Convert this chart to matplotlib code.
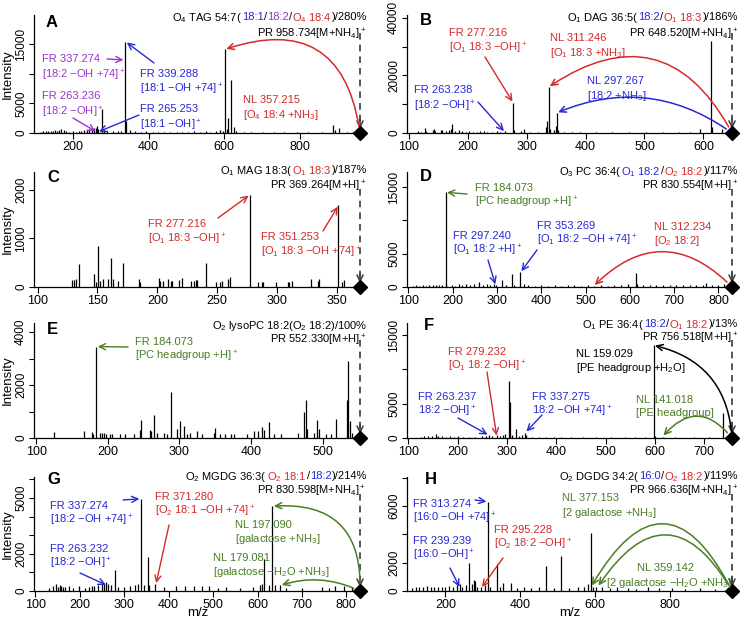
import matplotlib
matplotlib.use("Agg")
import matplotlib.pyplot as plt
from matplotlib.transforms import IdentityTransform

plt.rcParams['font.family'] = ['Liberation Sans', 'DejaVu Sans']
plt.rcParams['mathtext.fontset'] = 'custom'
plt.rcParams['mathtext.rm'] = 'Liberation Sans'
plt.rcParams['mathtext.default'] = 'regular'

# ---------------- data ----------------
A_mz = [115, 122, 128, 135, 141, 147, 152, 158, 163, 169, 175, 181, 190, 199, 207, 215, 222, 229, 236, 243,
        249, 255, 261, 263.2, 265.3, 277, 281, 291, 305, 319, 327, 337.3, 339.3, 351, 365, 379, 393, 411,
        425, 441, 457, 475, 489, 505, 521, 535, 551, 563, 577, 589, 597, 601.5, 606, 611, 618.5, 626, 631,
        651, 671, 703, 731, 759, 791, 821, 857, 887, 893, 903, 923, 941]
A_int = [250, 300, 350, 300, 400, 300, 500, 350, 450, 600, 500, 300, 250, 300, 250, 400, 300, 450, 500, 700,
         600, 800, 900, 1200, 700, 4000, 500, 400, 300, 400, 300, 15400, 2000, 500, 300, 250, 300, 250,
         200, 250, 200, 250, 200, 250, 300, 200, 300, 200, 350, 500, 400, 14100, 600, 2600, 9000, 1000, 300,
         200, 250, 200, 200, 250, 200, 250, 200, 1400, 500, 800, 250, 200]

B_mz = [115, 121, 127, 129, 141, 143, 145, 155, 157, 163, 169, 171, 173, 179, 185, 191, 197, 203, 209, 215,
        221, 227, 233, 241, 249, 255, 263.2, 277.2, 279, 291, 295, 305, 319, 333, 335, 337.3, 339, 347, 349,
        351.3, 353, 363, 377, 391, 417, 445, 473, 503, 531, 559, 577, 595, 613, 615, 631]
B_int = [600, 500, 1700, 800, 1000, 1500, 700, 900, 1200, 600, 900, 1500, 3000, 700, 900, 600, 500, 700, 500, 400,
         800, 600, 500, 400, 600, 400, 600, 10500, 1200, 600, 1300, 500, 500, 2000, 4000, 16000, 1500, 1200, 2500,
         7000, 1000, 500, 400, 400, 300, 400, 300, 400, 300, 300, 400, 1500, 32000, 2000, 1500]

C_mz = [128.9, 130.3, 132.2, 134.7, 147, 148.4, 150.6, 152.3, 154.5, 158.7, 161, 162.6, 166.8, 171.3, 185,
        185.8, 201, 202.4, 204.6, 208.9, 211.7, 212.5, 217.8, 220.6, 228.4, 230.4, 232, 233.2, 240.4, 249.3,
        252.7, 254.3, 259, 260.7, 277.2, 284, 287, 288.3, 298.7, 309.3, 310.1, 312.6, 328.2, 334.3, 335.2,
        351.25, 353.9, 356.1]
C_int = [140, 150, 160, 470, 270, 110, 850, 120, 170, 170, 600, 170, 130, 500, 170,
         100, 190, 130, 120, 160, 120, 120, 150, 180, 130, 130, 150, 150, 500, 110,
         110, 120, 170, 200, 1900, 110, 110, 110, 100, 110, 110, 120, 160, 130, 160,
         1680, 110, 150]

D_mz = [110, 118, 125, 132, 140, 147, 155, 162, 170, 176, 184.07, 186, 198, 205, 214, 221, 230, 240, 249,
        260.6, 268, 277, 285, 294, 297, 311, 320, 334, 338, 352, 360, 370, 385, 400, 415, 430, 445, 460, 475,
        490, 505, 520, 535, 550, 565, 580, 596, 613, 617, 630, 645, 660, 675, 690, 705, 720, 735, 750, 765,
        772, 785, 800, 812]
D_int = [200, 250, 200, 250, 200, 250, 300, 250, 300, 300, 14200, 400, 300, 200, 500, 300, 400, 300, 400,
         700, 300, 400, 300, 500, 300, 1100, 300, 2000, 300, 2200, 400, 300, 200, 250, 200, 250, 200, 250, 300,
         200, 250, 200, 250, 200, 300, 250, 400, 2100, 400, 300, 250, 300, 250, 300, 250, 350, 250, 300, 250,
         600, 300, 250, 500]

E_mz = [125.3, 166.4, 178, 180, 184.07, 189.7, 192.5, 195.3, 198, 203.6, 206.4, 217.6, 224.6, 236.3, 244.7,
        246.5, 258.7, 260.5, 264.3, 269, 278.2, 283, 288.5, 296.9, 301.5, 307.1, 310.9, 314.6, 324.9, 331.8,
        348.2, 349.6, 357.4, 364.4, 371.5, 376.1, 394.8, 404.1, 409.7, 414.8, 418, 425.1, 432, 441.4, 465.7,
        474, 476.3, 478.7, 488, 492.6, 495, 504.3, 511.3, 518.3, 534.7, 536, 538, 541.6]
E_int = [220, 280, 220, 150, 3450, 180, 180, 180, 150, 160, 160, 150, 160, 150, 300,
         680, 300, 250, 880, 200, 200, 150, 1750, 350, 650, 450, 150, 180, 250, 150,
         200, 380, 150, 150, 150, 150, 150, 280, 280, 420, 300, 600, 150, 150, 180,
         1000, 1430, 350, 200, 680, 350, 150, 150, 700, 1430, 2900, 650, 200]

F_mz = [125, 132, 140, 148, 155, 160, 168, 176, 184, 192, 200, 210, 222, 235, 249, 257, 263.2, 270, 279.2,
        285, 291, 296, 303, 305.5, 310, 318, 324, 330, 337.3, 339, 350, 365, 380, 395, 410, 430, 455, 480,
        510, 540, 560, 580, 597.49, 600, 615.5, 640, 680, 710, 738.5, 745]
F_int = [150, 250, 300, 350, 600, 300, 250, 200, 250, 200, 250, 200, 150, 200, 250, 300, 500, 300, 400,
         300, 400, 600, 8300, 5200, 400, 1300, 300, 400, 800, 400, 200, 150, 200, 150, 100, 150, 100, 100,
         100, 100, 150, 200, 13500, 300, 150, 100, 100, 150, 3700, 200]

G_mz = [130, 140, 146, 151, 155, 158, 162, 167, 175, 185, 199, 212, 220, 228, 232, 241, 249, 255, 259, 263.2,
        270, 279, 285, 299, 313, 325, 331, 337.27, 345, 352.4, 355, 369.8, 390, 417, 437, 458, 476, 490, 510,
        530, 560, 590, 605, 610, 615.5, 625, 633.5, 640, 651.5, 665, 700, 745, 760, 775, 795, 812]
G_int = [150, 250, 400, 200, 300, 250, 200, 200, 250, 150, 250, 150, 200, 250, 250, 300, 350, 400, 500, 350,
         300, 1150, 200, 200, 250, 300, 400, 4960, 300, 1820, 300, 400, 200, 250, 250, 250, 250, 250, 150,
         200, 150, 200, 300, 400, 1700, 300, 4560, 300, 300, 150, 150, 200, 150, 250, 250, 200]

H_mz = [110, 120, 130, 140, 150, 160, 170, 180, 190, 200, 210, 220, 230, 239.2, 245, 255, 263.9, 270, 275.6,
        280, 285, 295.2, 305, 313.27, 320, 336.6, 345, 354.6, 374.3, 390, 410, 430, 450, 468.6, 490, 509, 530,
        555, 571.8, 580.8, 589.48, 595, 603.7, 620, 640, 660, 688, 710, 742, 770, 805, 840, 880, 920]
H_int = [200, 250, 300, 250, 350, 300, 250, 300, 250, 300, 350, 300, 400, 500, 300, 400, 1950, 500, 800,
         700, 300, 300, 400, 6300, 300, 1880, 300, 600, 550, 200, 250, 200, 250, 1760, 200, 2470, 200,
         250, 300, 500, 4120, 300, 300, 250, 200, 250, 200, 150, 300, 200, 200, 150, 200, 150]

PR = dict(A=958.734, B=648.520, C=369.264, D=830.554, E=552.330, F=756.518, G=830.598, H=966.636)

# ---------------- style ----------------
K = '#000000'
BLUE = '#2727d6'
RED = '#d42a2a'
PURPLE = '#9b34cc'
GREEN = '#4a7d24'
GRAY = '#3a3a3a'
FS = 8
W, H = 740, 620

fig = plt.figure(figsize=(7.4, 6.2), dpi=100)
renderer = fig.canvas.get_renderer()
IDT = IdentityTransform()


def put(x, y, pieces, ha='left', size=FS, weight='normal'):
    texts = []
    for s, c in pieces:
        t = fig.text(0, 0, s, color=c, fontsize=size, ha='left', va='center_baseline',
                     transform=IDT, fontweight=weight)
        texts.append(t)
    widths = [t.get_window_extent(renderer).width for t in texts]
    x0 = x if ha == 'left' else x - sum(widths)
    for t, w in zip(texts, widths):
        t.set_position((x0, H - y))
        x0 += w


def label(x, y1, y2, l1, l2, color, x2=None):
    put(x, y1, [(l1, color)])
    put(x if x2 is None else x2, y2, [(l2, color)])


AH = '->,head_length=0.45,head_width=0.22'


def arrow(ax, start, target, color):
    ax.annotate('', xy=target, xycoords='data', xytext=(start[0], H - start[1]),
                textcoords='figure pixels', annotation_clip=False,
                arrowprops=dict(arrowstyle=AH, color=color, lw=1.0, shrinkA=0, shrinkB=1))


def nl_arrow(ax, pr, nl, h, color, rad):
    ax.annotate('', xy=(pr - nl, h), xycoords='data', xytext=(pr, 0), textcoords='data',
                annotation_clip=False,
                arrowprops=dict(arrowstyle=AH, color=color, lw=1.1, shrinkA=5, shrinkB=1,
                                connectionstyle='arc3,rad=%g' % rad))


def top(mz, it, m):
    i = min(range(len(mz)), key=lambda k: abs(mz[k] - m))
    return it[i]


COLS = [(34, 361), (407, 733)]
ROWS = [(15, 133), (172, 287), (323, 438), (477, 591)]


def make_ax(col, row, mz, it, pr, ytop, xt, yt, ylab, letter, lpos):
    l, r = COLS[col]
    t, b = ROWS[row]
    ax = fig.add_axes([l / W, 1 - b / H, (r - l) / W, (b - t) / H])
    ax.vlines(mz, 0, it, color='black', lw=0.9)
    ax.set_xlim(97, pr + 0.003 * (pr - 97))
    ax.set_ylim(0, ytop)
    for s in ['top', 'right']:
        ax.spines[s].set_visible(False)
    for s in ['left', 'bottom']:
        ax.spines[s].set_linewidth(0.9)
    ax.set_xticks(xt)
    ax.set_yticks(yt)
    ax.set_yticklabels(ylab)
    ax.tick_params(axis='x', labelsize=9, length=4, width=0.8, pad=2)
    ax.tick_params(axis='y', labelsize=8.5, length=3.5, width=0.8, pad=1.5, labelrotation=90)
    for lab in ax.get_yticklabels():
        lab.set_va('center')
    # precursor marker
    xt_tr = ax.get_xaxis_transform()
    ax.plot([pr, pr], [0.85, 0.07], transform=xt_tr, color=GRAY, lw=1.2,
            dashes=(4, 3), clip_on=False)
    ax.annotate('', xy=(pr, 0.035), xycoords=xt_tr, xytext=(pr, 0.12), textcoords=xt_tr,
                annotation_clip=False,
                arrowprops=dict(arrowstyle=AH, color=GRAY, lw=1.1, shrinkA=0, shrinkB=0))
    ax.plot([pr], [0], marker='D', ms=7, color='black', clip_on=False, zorder=6)
    put(lpos[0], lpos[1], [(letter, K)], size=12, weight='bold')
    if col == 0:
        fig.text(8 / W, 1 - (t + b) / 2 / H, 'Intensity', rotation=90, ha='center',
                 va='center', fontsize=9.5)
    if row == 3:
        fig.text((l + r) / 2 / W, 1 - 613 / H, 'm/z', ha='center', va='center', fontsize=9.5)
    return ax


# ---------------- A ----------------
ax = make_ax(0, 0, A_mz, A_int, PR['A'], 19900, [200, 400, 600, 800],
             [0, 5000, 10000, 15000], ['0', '5000', '', '15000'], 'A', (46, 21))
put(367, 16, [("O$_4$ TAG 54:7(", K), ("18:1", BLUE), ("/", K), ("18:2", PURPLE), ("/", K),
              ("O$_4$ 18:4", RED), (")/280%", K)], ha='right')
put(366, 32, [("PR 958.734[M+NH$_4$]$^+$", K)], ha='right')
label(42, 58, 73, "FR 337.274", "[18:2 −OH +74]$^+$", PURPLE)
label(42, 95, 110, "FR 263.236", "[18:2 −OH]$^+$", PURPLE)
label(140, 73, 87, "FR 339.288", "[18:1 −OH +74]$^+$", BLUE)
label(140, 108, 123, "FR 265.253", "[18:1 −OH]$^+$", BLUE)
label(243, 99, 113, "NL 357.215", "[O$_4$ 18:4 +NH$_3$]", RED)
arrow(ax, (107, 59), (337.27, 0.8 * top(A_mz, A_int, 337.3)), PURPLE)
arrow(ax, (73, 118), (263.2, 150), PURPLE)
arrow(ax, (154, 63), (339.3, top(A_mz, A_int, 337.3)), BLUE)
arrow(ax, (139, 115), (265.3, 150), BLUE)
nl_arrow(ax, PR['A'], 357.215, top(A_mz, A_int, 601.5), RED, 0.6)

# ---------------- B ----------------
ax = make_ax(1, 0, B_mz, B_int, PR['B'], 41000, [100, 200, 300, 400, 500, 600],
             [0, 10000, 20000, 30000, 40000], ['0', '', '20000', '', '40000'], 'B', (420, 19))
put(738, 16, [("O$_1$ DAG 36:5(", K), ("18:2", BLUE), ("/", K), ("O$_1$ 18:3", RED), (")/186%", K)], ha='right')
put(738, 32, [("PR 648.520[M+NH$_4$]$^+$", K)], ha='right')
label(449, 32, 46, "FR 277.216", "[O$_1$ 18:3 −OH]$^+$", RED)
label(550, 37, 51, "NL 311.246", "[O$_1$ 18:3 +NH$_3$]", RED)
label(414, 89, 104, "FR 263.238", "[18:2 −OH]$^+$", BLUE)
label(587, 80, 94, "NL 297.267", "[18:2 +NH$_3$]", BLUE)
arrow(ax, (485, 57), (277.2, top(B_mz, B_int, 277.2)), RED)
arrow(ax, (478, 102), (263.2, 300), BLUE)
nl_arrow(ax, PR['B'], 311.246, top(B_mz, B_int, 337.3), RED, 0.55)
nl_arrow(ax, PR['B'], 297.267, top(B_mz, B_int, 351.3), BLUE, 0.28)

# ---------------- C ----------------
ax = make_ax(0, 1, C_mz, C_int, PR['C'], 2370, [100, 150, 200, 250, 300, 350],
             [0, 1000, 2000], ['0', '1000', '2000'], 'C', (47, 176))
put(367, 169, [("O$_1$ MAG 18:3(", K), ("O$_1$ 18:3", RED), (")/187%", K)], ha='right')
put(366, 184, [("PR 369.264[M+H]$^+$", K)], ha='right')
label(148, 223, 237, "FR 277.216", "[O$_1$ 18:3 −OH]$^+$", RED)
label(261, 236, 250, "FR 351.253", "[O$_1$ 18:3 −OH +74]$^+$", RED)
arrow(ax, (218, 218), (277.2, top(C_mz, C_int, 277.2)), RED)
arrow(ax, (323, 231), (351.25, top(C_mz, C_int, 351.25)), RED)

# ---------------- D ----------------
ax = make_ax(1, 1, D_mz, D_int, PR['D'], 17250, [100, 200, 300, 400, 500, 600, 700, 800],
             [0, 5000, 10000, 15000], ['0', '5000', '', '15000'], 'D', (420, 175))
put(738, 170, [("O$_3$ PC 36:4(", K), ("O$_1$ 18:2", BLUE), ("/", K), ("O$_2$ 18:2", RED), (")/117%", K)], ha='right')
put(738, 184, [("PR 830.554[M+H]$^+$", K)], ha='right')
label(475, 187, 200, "FR 184.073", "[PC headgroup +H]$^+$", GREEN)
label(453, 235, 248, "FR 297.240", "[O$_1$ 18:2 +H]$^+$", BLUE)
label(537, 225, 238, "FR 353.269", "[O$_1$ 18:2 −OH +74]$^+$", BLUE)
label(654, 226, 239, "NL 312.234", "[O$_2$ 18:2]", RED)
arrow(ax, (467, 194), (184.07, top(D_mz, D_int, 184.07)), GREEN)
arrow(ax, (488, 260), (297.24, 200), BLUE)
arrow(ax, (537, 250), (353.27, top(D_mz, D_int, 352)), BLUE)
nl_arrow(ax, PR['D'], 312.234, 150, RED, 0.5)

# ---------------- E ----------------
ax = make_ax(0, 2, E_mz, E_int, PR['E'], 4340, [100, 200, 300, 400, 500],
             [0, 1000, 2000, 3000, 4000], ['0', '', '2000', '', '4000'], 'E', (47, 328))
put(367, 324, [("O$_2$ lysoPC 18:2(O$_2$ 18:2)/100%", K)], ha='right')
put(366, 338, [("PR 552.330[M+H]$^+$", K)], ha='right')
label(135, 341, 354, "FR 184.073", "[PC headgroup +H]$^+$", GREEN)
arrow(ax, (128, 347), (184.07, top(E_mz, E_int, 184.07)), GREEN)

# ---------------- F ----------------
ax = make_ax(1, 2, F_mz, F_int, PR['F'], 16750, [100, 200, 300, 400, 500, 600, 700],
             [0, 5000, 10000, 15000], ['0', '5000', '', '15000'], 'F', (424, 324))
put(738, 323, [("O$_1$ PE 36:4(", K), ("18:2", BLUE), ("/", K), ("O$_1$ 18:2", RED), (")/13%", K)], ha='right')
put(738, 336, [("PR 756.518[M+H]$^+$", K)], ha='right')
label(448, 351, 364, "FR 279.232", "[O$_1$ 18:2 −OH]$^+$", RED)
label(576, 353, 366, "NL 159.029", "[PE headgroup +H$_2$O]", K)
label(636, 399, 412, "NL 141.018", "[PE headgroup]", GREEN)
label(418, 396, 409, "FR 263.237", "18:2 −OH]$^+$", BLUE)
label(532, 396, 409, "FR 337.275", "18:2 −OH +74]$^+$", BLUE)
arrow(ax, (487, 372), (279.2, 150), RED)
arrow(ax, (458, 418), (263.2, 400), BLUE)
arrow(ax, (542, 415), (337.3, top(F_mz, F_int, 337.3)), BLUE)
nl_arrow(ax, PR['F'], 159.029, top(F_mz, F_int, 597.49), K, 0.37)
nl_arrow(ax, PR['F'], 141.018, 200, GREEN, 0.6)

# ---------------- G ----------------
ax = make_ax(0, 3, G_mz, G_int, PR['G'], 6130, [100, 200, 300, 400, 500, 600, 700, 800],
             [0, 1000, 2000, 3000, 4000, 5000, 6000], ['0', '', '2000', '', '', '5000', ''], 'G', (47, 478))
put(367, 475, [("O$_2$ MGDG 36:3(", K), ("O$_2$ 18:1", RED), ("/", K), ("18:2", BLUE), (")/214%", K)], ha='right')
put(366, 489, [("PR 830.598[M+NH$_4$]$^+$", K)], ha='right')
label(50, 505, 518, "FR 337.274", "[18:2 −OH +74]$^+$", BLUE)
label(50, 548, 561, "FR 263.232", "[18:2 −OH]$^+$", BLUE)
label(155, 496, 509, "FR 371.280", "[O$_2$ 18:1 −OH +74]$^+$", RED)
label(235, 524, 537, "NL 197.090", "[galactose +NH$_3$]", GREEN)
label(213, 557, 570, "NL 179.081", "[galactose −H$_2$O +NH$_3$]", GREEN)
arrow(ax, (123, 500), (337.27, top(G_mz, G_int, 337.27)), BLUE)
arrow(ax, (80, 573), (261.7, 300), BLUE)
arrow(ax, (169, 525), (371.28, 350), RED)
nl_arrow(ax, PR['G'], 197.090, top(G_mz, G_int, 633.5), GREEN, 0.55)
nl_arrow(ax, PR['G'], 179.081, 300, GREEN, 0.2)

# ---------------- H ----------------
ax = make_ax(1, 3, H_mz, H_int, PR['H'], 8050, [200, 400, 600, 800],
             [0, 2000, 4000, 6000, 8000], ['0', '2000', '', '6000', ''], 'H', (425, 478))
put(738, 475, [("O$_2$ DGDG 34:2(", K), ("16:0", BLUE), ("/", K), ("O$_2$ 18:2", RED), (")/119%", K)], ha='right')
put(738, 489, [("PR 966.636[M+NH$_4$]$^+$", K)], ha='right')
label(413, 503, 516, "FR 313.274", "[16:0 −OH +74]$^+$", BLUE)
label(413, 540, 553, "FR 239.239", "[16:0 −OH]$^+$", BLUE)
label(494, 529, 542, "FR 295.228", "[O$_2$ 18:2 −OH]$^+$", RED)
label(562, 497, 511, "NL 377.153", "[2 galactose +NH$_3$]", GREEN)
label(637, 567, 581, "NL 359.142", "[2 galactose −H$_2$O +NH$_3$]", GREEN, x2=606)
arrow(ax, (475, 500), (313.27, top(H_mz, H_int, 313.27)), BLUE)
arrow(ax, (450, 568), (239.2, 200), BLUE)
arrow(ax, (503, 558), (295.2, 200), RED)
nl_arrow(ax, PR['H'], 377.153, 300, GREEN, 0.92)
nl_arrow(ax, PR['H'], 359.142, 300, GREEN, 0.8)

fig.savefig('out.png', dpi=100)
